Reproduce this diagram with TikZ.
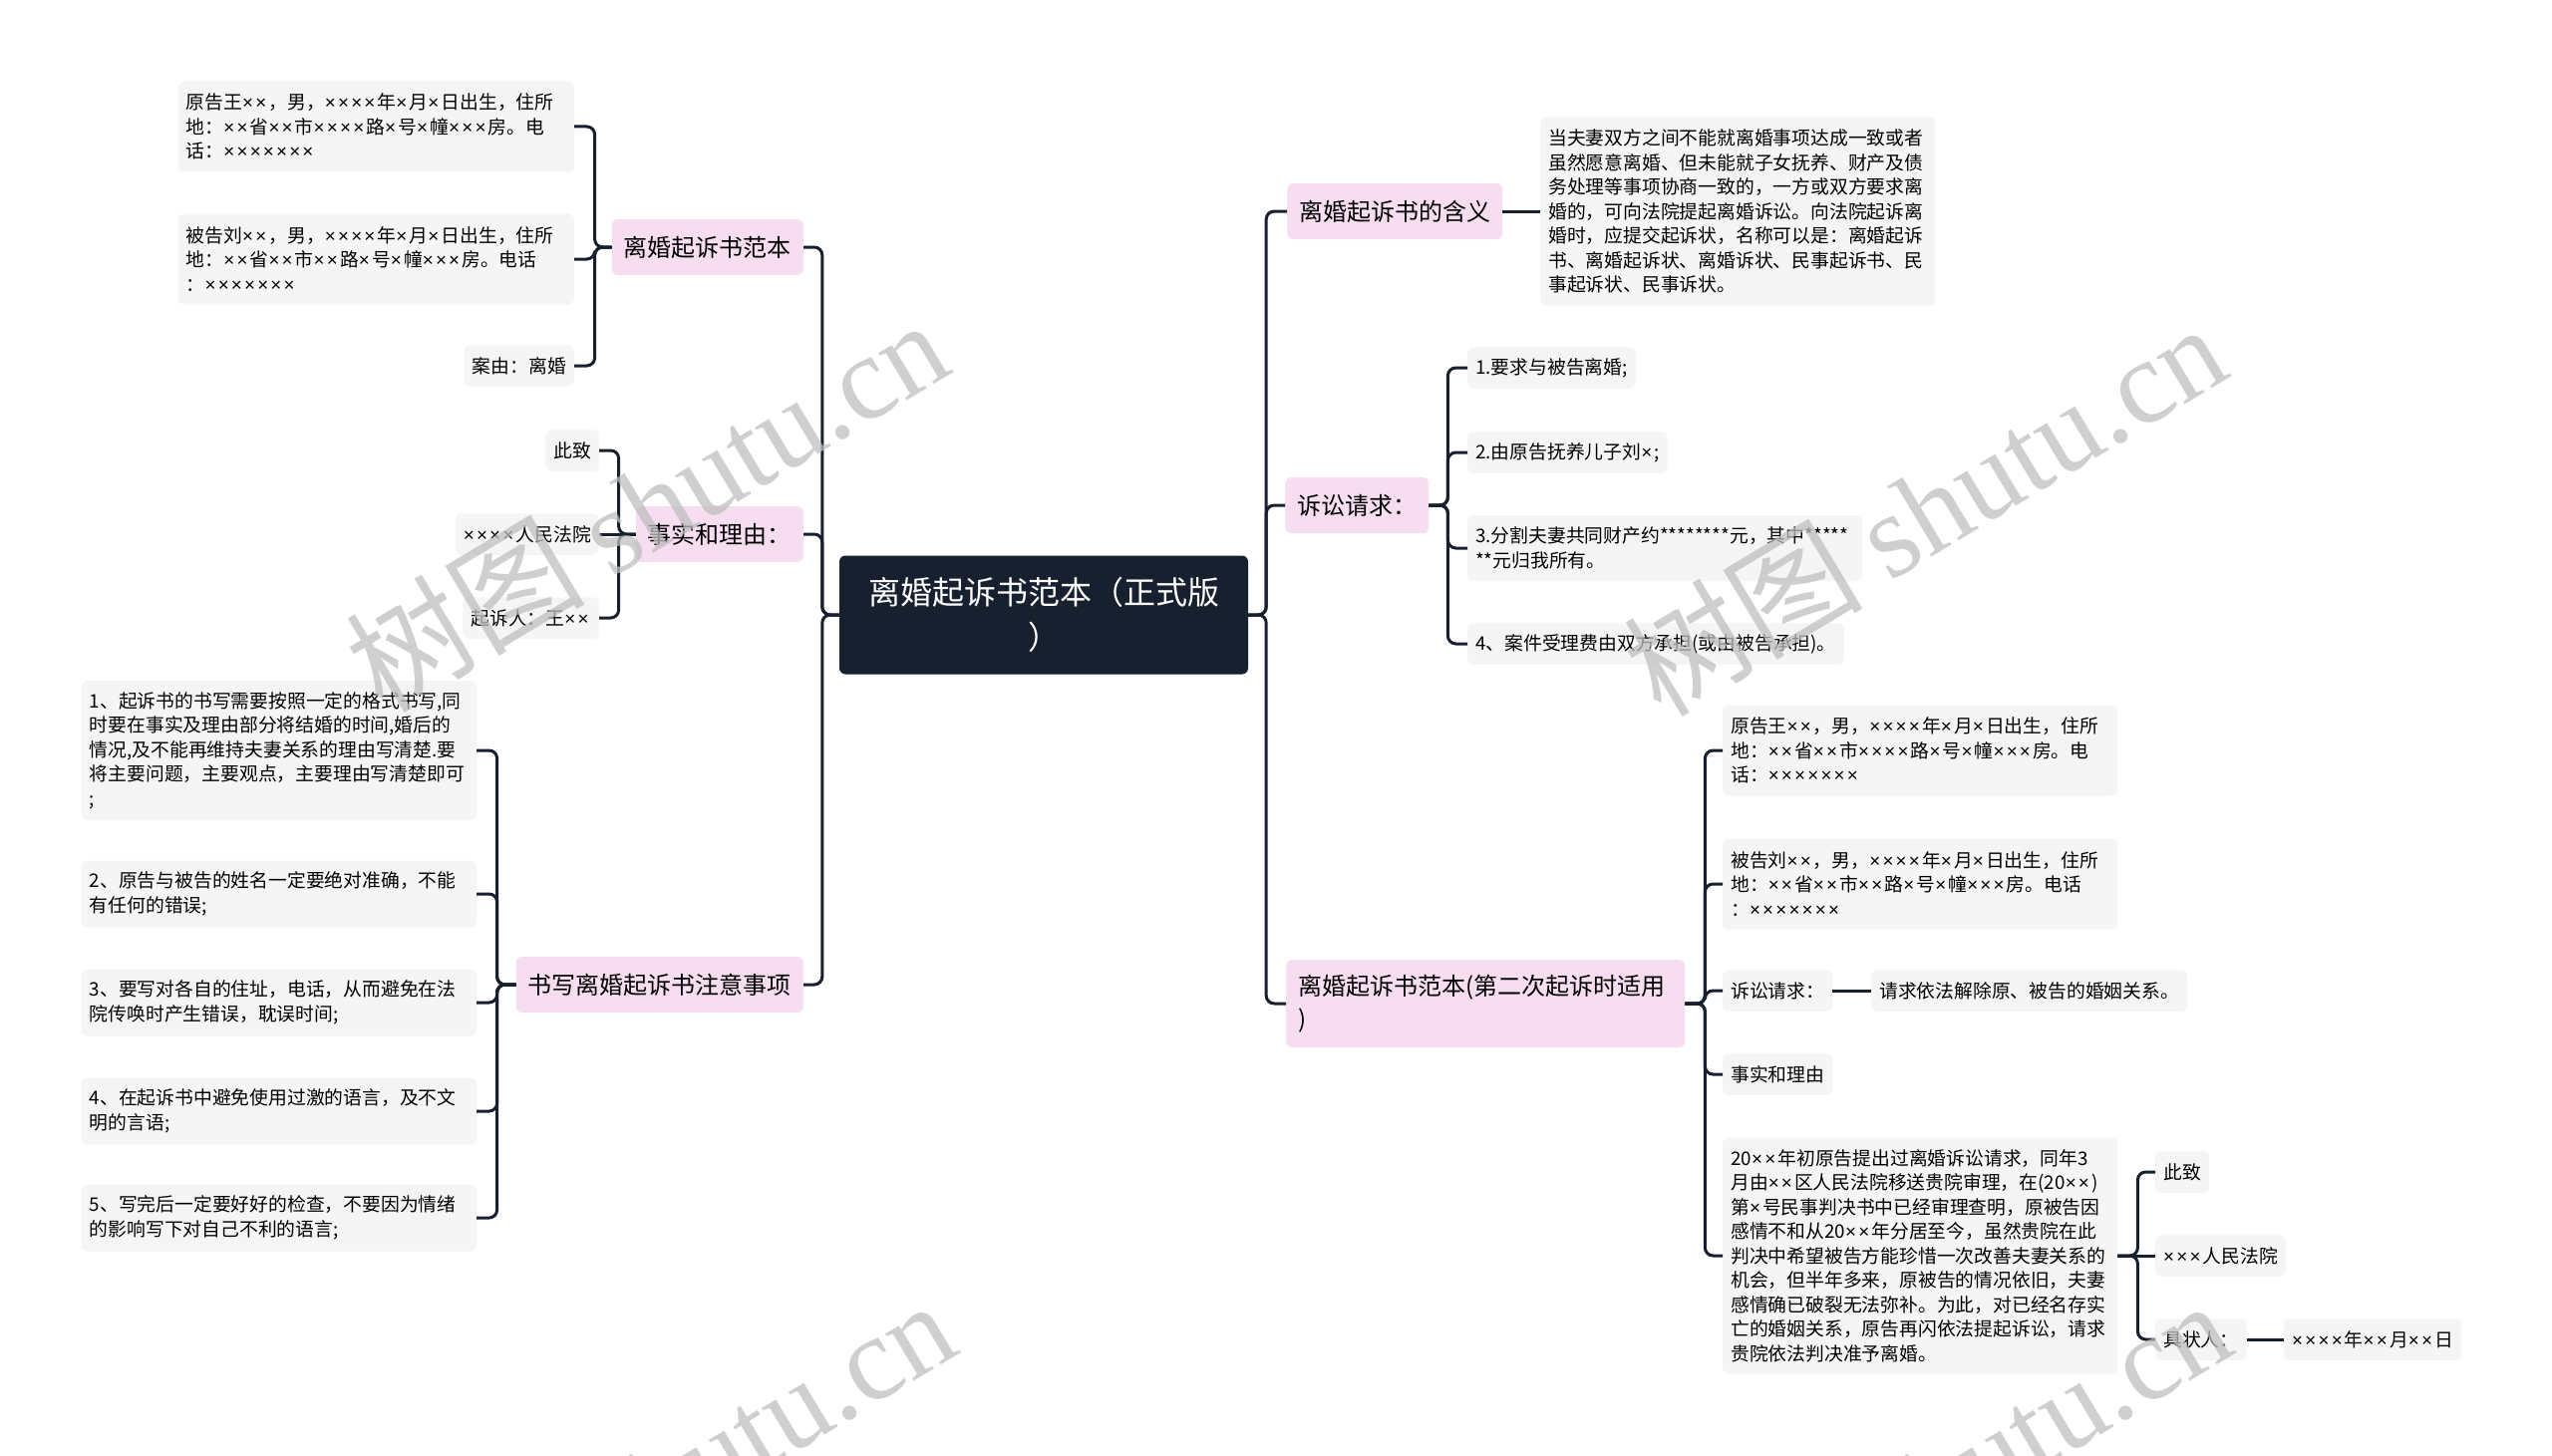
\documentclass[tikz,border=0pt]{standalone}
\usepackage{fontspec}
\setmainfont{Noto Sans CJK SC}
\newfontfamily\wmserif{Liberation Serif}
\newfontfamily\xfont{Liberation Sans}
\usetikzlibrary{calc}
\definecolor{navy}{HTML}{16202E}
\definecolor{pinkbg}{HTML}{F6DDF0}
\definecolor{leafbg}{HTML}{F5F5F5}
\catcode`\×=\active
\def×{{\xfont\char"D7\kern2.2pt}}
\tikzset{
  base/.style={rounded corners=6pt, inner ysep=0pt, font=\fontsize{18.8}{24.5}\selectfont, text=black},
  leaf/.style={base, fill=leafbg, inner xsep=8pt, minimum height=41.5pt, align=left},
  topic/.style={base, fill=pinkbg, inner xsep=12pt, minimum height=56pt, font=\fontsize{24}{33}\selectfont, align=left},
  rootbox/.style={rounded corners=6pt, fill=navy, text=white, font=\fontsize{32}{45}\selectfont, align=center, minimum width=410pt, minimum height=119pt, inner sep=0pt},
  conn/.style={draw=navy, line width=3pt, rounded corners=8pt},
  wm/.style={text=black!25, font=\fontsize{120}{120}\selectfont, rotate=31, opacity=0.75},
}
\begin{document}
\begin{tikzpicture}[x=1pt, y=-1pt]
\fill[white] (0,0) rectangle (2560,1461);
\useasboundingbox (0,0) rectangle (2560,1461);
\clip (0,0) rectangle (2560,1461);

% root
\node[rootbox] (root) at (1047,617) {离婚起诉书范本（正式版\\）};

% ---------- left side ----------
\node[topic, anchor=east] (L1) at (806,248) {离婚起诉书范本};
\node[leaf, anchor=east, text width=381pt, minimum height=91pt] (L1a) at (576,127) {原告王××，男，××××年×月×日出生，住所\\地：××省××市××××路×号×幢×××房。电\\话：×××××××};
\node[leaf, anchor=east, text width=381pt, minimum height=91pt] (L1b) at (576,260) {被告刘××，男，××××年×月×日出生，住所\\地：××省××市××路×号×幢×××房。电话\\：×××××××};
\node[leaf, anchor=east] (L1c) at (576,367) {案由：离婚};

\node[topic, anchor=east] (L2) at (806,536) {事实和理由：};
\node[leaf, anchor=east] (L2a) at (601,452) {此致};
\node[leaf, anchor=east] (L2b) at (601,536) {××××人民法院};
\node[leaf, anchor=east] (L2c) at (601,620) {起诉人：王××};

\node[topic, anchor=east] (L3) at (806,988) {书写离婚起诉书注意事项};
\node[leaf, anchor=east, text width=380pt, minimum height=140pt] (L3a) at (478,753) {1、起诉书的书写需要按照一定的格式书写,同\\时要在事实及理由部分将结婚的时间,婚后的\\情况,及不能再维持夫妻关系的理由写清楚.要\\将主要问题，主要观点，主要理由写清楚即可\\;};
\node[leaf, anchor=east, text width=380pt, minimum height=67pt] (L3b) at (478,897) {2、原告与被告的姓名一定要绝对准确，不能\\有任何的错误;};
\node[leaf, anchor=east, text width=380pt, minimum height=67pt] (L3c) at (478,1006) {3、要写对各自的住址，电话，从而避免在法\\院传唤时产生错误，耽误时间;};
\node[leaf, anchor=east, text width=380pt, minimum height=67pt] (L3d) at (478,1115) {4、在起诉书中避免使用过激的语言，及不文\\明的言语;};
\node[leaf, anchor=east, text width=380pt, minimum height=67pt] (L3e) at (478,1222) {5、写完后一定要好好的检查，不要因为情绪\\的影响写下对自己不利的语言;};

% ---------- right side ----------
\node[topic, anchor=west] (R1) at (1291,212) {离婚起诉书的含义};
\node[leaf, anchor=west, text width=380pt, minimum height=189pt] (R1a) at (1545,212) {当夫妻双方之间不能就离婚事项达成一致或者\\虽然愿意离婚、但未能就子女抚养、财产及债\\务处理等事项协商一致的，一方或双方要求离\\婚的，可向法院提起离婚诉讼。向法院起诉离\\婚时，应提交起诉状，名称可以是：离婚起诉\\书、离婚起诉状、离婚诉状、民事起诉书、民\\事起诉状、民事诉状。};

\node[topic, anchor=west] (R2) at (1289,507) {诉讼请求：};
\node[leaf, anchor=west] (R2a) at (1472,369) {1.要求与被告离婚;};
\node[leaf, anchor=west] (R2b) at (1472,454) {2.由原告抚养儿子刘×;};
\node[leaf, anchor=west, text width=380pt, minimum height=66pt] (R2c) at (1472,550) {3.分割夫妻共同财产约********元，其中*****\\{}**元归我所有。};
\node[leaf, anchor=west] (R2d) at (1472,646) {4、案件受理费由双方承担(或由被告承担)。};

\node[topic, anchor=west, text width=376pt, minimum height=88pt] (R3) at (1290,1007) {离婚起诉书范本(第二次起诉时适用\\)};
\node[leaf, anchor=west, text width=380pt, minimum height=91pt] (R3a) at (1728,753) {原告王××，男，××××年×月×日出生，住所\\地：××省××市××××路×号×幢×××房。电\\话：×××××××};
\node[leaf, anchor=west, text width=380pt, minimum height=91pt] (R3b) at (1728,887) {被告刘××，男，××××年×月×日出生，住所\\地：××省××市××路×号×幢×××房。电话\\：×××××××};
\node[leaf, anchor=west] (R3c) at (1728,994) {诉讼请求：};
\node[leaf, anchor=west] (R3c1) at (1877,994) {请求依法解除原、被告的婚姻关系。};
\node[leaf, anchor=west] (R3d) at (1728,1078) {事实和理由};
\node[leaf, anchor=west, text width=380pt, minimum height=237pt] (R3e) at (1728,1260) {20××年初原告提出过离婚诉讼请求，同年3\\月由××区人民法院移送贵院审理，在(20××)\\第×号民事判决书中已经审理查明，原被告因\\感情不和从20××年分居至今，虽然贵院在此\\判决中希望被告方能珍惜一次改善夫妻关系的\\机会，但半年多来，原被告的情况依旧，夫妻\\感情确已破裂无法弥补。为此，对已经名存实\\亡的婚姻关系，原告再闪依法提起诉讼，请求\\贵院依法判决准予离婚。};
\node[leaf, anchor=west] (R3e1) at (2162,1176) {此致};
\node[leaf, anchor=west] (R3e2) at (2162,1260) {×××人民法院};
\node[leaf, anchor=west] (R3e3) at (2162,1344) {具状人：};
\node[leaf, anchor=west] (R3e3a) at (2291,1344) {××××年××月××日};

% ---------- connectors ----------
\foreach \c in {L1,L2,L3} \draw[conn] (root.west) -- ++(-17,0) |- (\c.east);
\foreach \c in {R1,R2,R3} \draw[conn] (root.east) -- ++(18,0) |- (\c.west);

\foreach \c in {L1a,L1b,L1c} \draw[conn] (L1.west) -- ++(-17,0) |- (\c.east);
\foreach \c in {L2a,L2c} \draw[conn] (L2.west) -- ++(-17,0) |- (\c.east);
\draw[conn] (L2.west) -- (L2b.east);
\foreach \c in {L3a,L3b,L3c,L3d,L3e} \draw[conn] (L3.west) -- ++(-19,0) |- (\c.east);

\draw[conn] (R1.east) -- (R1a.west);
\foreach \c in {R2a,R2b,R2c,R2d} \draw[conn] (R2.east) -- ++(19,0) |- (\c.west);
\foreach \c in {R3a,R3b,R3c,R3d,R3e} \draw[conn] (R3.east) -- ++(20,0) |- (\c.west);
\draw[conn] (R3c.east) -- (R3c1.west);
\foreach \c in {R3e1,R3e3} \draw[conn] (R3e.east) -- ++(20,0) |- (\c.west);
\draw[conn] (R3e.east) -- (R3e2.west);
\draw[conn] (R3e3.east) -- (R3e3a.west);

% ---------- watermarks ----------
\node[wm] (wm1) at (648,506) {树图 {\wmserif shutu.cn}};
\node[wm] (wm2) at (1930,510) {树图 {\wmserif shutu.cn}};
\node[wm] (wm3) at (655,1490) {树图 {\wmserif shutu.cn}};
\node[wm] (wm4) at (1935,1490) {树图 {\wmserif shutu.cn}};
\end{tikzpicture}
\end{document}
